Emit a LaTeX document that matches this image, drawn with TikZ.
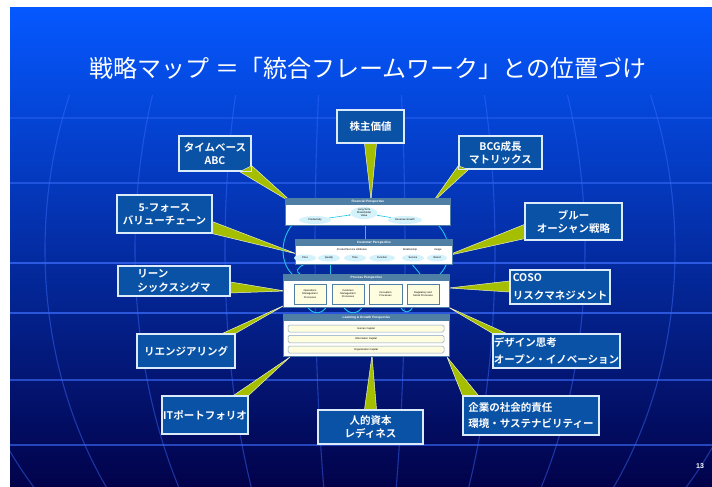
\documentclass[tikz,border=0pt]{standalone}
\usepackage{fontspec}
\setmainfont{Noto Sans CJK JP}[BoldFont={Noto Sans CJK JP Bold}]
\newfontfamily\lsans{Liberation Sans}
\usetikzlibrary{calc,shapes.geometric,arrows.meta}
\definecolor{bgtop}{HTML}{0558FF}
\definecolor{bgmid}{HTML}{0426C8}
\definecolor{bgbot}{HTML}{02024A}
\definecolor{gridc}{HTML}{3D6DFF}
\definecolor{boxfill}{HTML}{0A52A6}
\definecolor{boxline}{HTML}{DCEBFA}
\definecolor{wedgec}{HTML}{A6BE00}
\definecolor{hdrc}{HTML}{4F7FA4}
\definecolor{ovalc}{HTML}{D4F2FB}
\definecolor{paley}{HTML}{FFFDE0}
\definecolor{cyanc}{HTML}{22C4E6}
\newcommand\dtxt{\lsans\fontsize{2.6}{3.1}\selectfont}
\newcommand\dhdr{\lsans\bfseries\fontsize{3.2}{3.6}\selectfont}
\begin{document}
\begin{tikzpicture}[x=1pt,y=-1pt,
  cbox/.style={draw=boxline, line width=1.4pt, fill=boxfill, text=white,
    font=\bfseries\fontsize{10.5}{13}\selectfont, align=center, inner sep=0pt},
  wedge/.style={fill=wedgec, draw=white!80!wedgec, line width=0.5pt, line join=round},
  persp/.style={draw=hdrc, line width=0.8pt, fill=white, inner sep=0pt, anchor=north west},
  hdrbar/.style={fill=hdrc},
  hdrtxt/.style={text=white, font=\dhdr, inner sep=0pt},
  oval/.style={ellipse, fill=ovalc, inner sep=0pt, font=\dtxt, align=center},
  pbox/.style={draw=hdrc, line width=0.7pt, fill=paley, font=\dtxt, align=center, inner sep=0pt},
  lbar/.style={draw=hdrc!70, line width=0.5pt, fill=paley, rounded corners=1.5pt, font=\dtxt, inner sep=0pt},
  lbl/.style={font=\dtxt, inner sep=0pt},
  cyanln/.style={draw=cyanc, line width=0.9pt},
  gridln/.style={draw=gridc, line width=1.1pt}
]
\useasboundingbox (0,0) rectangle (712,487);
\fill[white] (0,0) rectangle (712,487);
\shade[top color=bgtop, middle color=bgmid, bottom color=bgbot] (10,8) rectangle (712,487);
% globe grid
\begin{scope}
  \clip (10,95) rectangle (712,487);
  \foreach \yy/\op in {118/0.35,183/0.5,263/0.7,313/0.7,380/0.6,445/0.6}
    \draw[gridln, opacity=\op] (10,\yy) -- (712,\yy);
  \foreach \rx in {45,135,225,315,405}
    \draw[gridln, opacity=0.45] (360,250) ellipse [x radius=\rx, y radius=400];
\end{scope}
% title
\node[text=white, font=\fontsize{24}{28}\selectfont, inner sep=0pt] (title) at (368,68)
  {戦略マップ ＝「統合フレームワーク」との位置づけ};
% callout boxes
\node[cbox, minimum width=67pt, minimum height=33pt] (b1) at (370.5,126.5) {株主価値};
\node[cbox, minimum width=72pt, minimum height=35pt] (b2) at (215,153.5) {タイムベース\\ABC};
\node[cbox, minimum width=83pt, minimum height=33pt] (b3) at (500.5,152.5) {BCG成長\\マトリックス};
\node[cbox, minimum width=95pt, minimum height=38pt] (b4) at (164.5,214) {5-フォース\\バリューチェーン};
\node[cbox, minimum width=112pt, minimum height=30pt, align=left] (b5) at (174,281) {リーン\\[1pt]シックスシグマ};
\node[cbox, minimum width=97pt, minimum height=37pt] (b6) at (573.5,221.5) {ブルー\\オーシャン戦略};
\node[cbox, minimum width=100pt, minimum height=34pt, align=left] (b7) at (560,287) {COSO\\[5pt]リスクマネジメント};
\node[cbox, minimum width=98pt, minimum height=34pt] (b8) at (186,351) {リエンジアリング};
\node[cbox, minimum width=86pt, minimum height=38pt] (b9) at (205,415) {ITポートフォリオ};
\node[cbox, minimum width=105pt, minimum height=34pt] (b10) at (370.5,427) {人的資本\\レディネス};
\node[cbox, minimum width=127pt, minimum height=34pt, align=left] (b11) at (556.5,351) {デザイン思考\\[4pt]オープン・イノベーション};
\node[cbox, minimum width=136pt, minimum height=39pt, align=left] (b12) at (531,415.5) {企業の社会的責任\\[4pt]環境・サステナビリティー};
% wedge tips
\coordinate (t1) at (371,200);
\coordinate (t2) at (294,204);
\coordinate (t3) at (432,203);
\coordinate (t4) at (297,254);
\coordinate (t5) at (285,291);
\coordinate (t6) at (446,256);
\coordinate (t7) at (449,288);
\coordinate (t8) at (285,305);
\coordinate (t9) at (290,357);
\coordinate (t10) at (372,355);
\coordinate (t11) at (448,307);
\coordinate (t12) at (447,357);
% wedges
\begin{scope}[on background layer/.style={}]
\filldraw[wedge] ($(b1.south)+(-6,0)$) -- (t1) -- ($(b1.south)+(6,0)$) -- cycle;
\filldraw[wedge] ($(b2.south east)+(-12,0)$) -- (t2) -- ($(b2.south east)+(0,-6)$) -- cycle;
\filldraw[wedge] ($(b3.south west)+(0,-4)$) -- (t3) -- ($(b3.south west)+(10,0)$) -- cycle;
\filldraw[wedge] ($(b4.south east)+(0,-12)$) -- (t4) -- ($(b4.south east)+(0,0)$) -- cycle;
\filldraw[wedge] ($(b5.east)+(0,1)$) -- (t5) -- ($(b5.east)+(0,12)$) -- cycle;
\filldraw[wedge] ($(b6.west)+(0,3)$) -- (t6) -- ($(b6.south west)+(0,-2)$) -- cycle;
\filldraw[wedge] ($(b7.west)+(0,-6)$) -- (t7) -- ($(b7.west)+(0,5)$) -- cycle;
\filldraw[wedge] ($(b8.north east)+(-13,0)$) -- (t8) -- ($(b8.north east)+(0,0)$) -- cycle;
\filldraw[wedge] ($(b9.north east)+(-15,0)$) -- (t9) -- ($(b9.north east)+(0,0)$) -- cycle;
\filldraw[wedge] ($(b10.north)+(-6,0)$) -- (t10) -- ($(b10.north)+(6,0)$) -- cycle;
\filldraw[wedge] ($(b11.north west)+(0,0)$) -- (t11) -- ($(b11.north west)+(14,0)$) -- cycle;
\filldraw[wedge] ($(b12.north west)+(0,0)$) -- (t12) -- ($(b12.north west)+(16,0)$) -- cycle;
\end{scope}
% redraw boxes above wedges
\foreach \b in {b1,b2,b3,b4,b5,b6,b7,b8,b9,b10,b11,b12}
  \draw[draw=boxline, line width=1.4pt] (\b.north west) rectangle (\b.south east);
% ---------- central strategy map ----------
% cyan links between perspectives
\draw[cyanln] (292,225) .. controls (280,240) and (280,262) .. (292,274);
\draw[cyanln] (438,225) .. controls (452,240) and (452,262) .. (440,274);
\draw[cyanln] (305,264) .. controls (296,268) and (296,272) .. (300,274);
\draw[cyanln] (330,262) -- (330,274);
\draw[cyanln] (365,225) -- (365,239);
\draw[cyanln] (410,262) .. controls (415,268) and (418,271) .. (420,274);
\draw[cyanln] (307,306) .. controls (312,315) and (322,315) .. (327,306);
\draw[cyanln] (343,306) .. controls (348,315) and (358,315) .. (363,306);
\draw[cyanln] (400,306) .. controls (404,314) and (410,314) .. (413,306);
% Financial
\node[persp, minimum width=165pt, minimum height=27pt] (fin) at (285,198) {};
\fill[hdrbar] (fin.north west) rectangle ($(fin.north east)+(0,7)$);
\node[hdrtxt] (finh) at ($(fin.north)+(0,3.5)$) {Financial Perspective};
\node[oval, minimum width=27pt, minimum height=12pt] (fv) at (364,213) {Long-Term\\Shareholder\\Value};
\node[oval, minimum width=32pt, minimum height=8pt] (fp) at (315,220) {Productivity};
\node[oval, minimum width=34pt, minimum height=8pt] (fr) at (405,220) {Revenue Growth};
\draw[cyanln, line width=0.6pt, -{Stealth[length=2pt]}] (fp) -- (fv);
\draw[cyanln, line width=0.6pt, -{Stealth[length=2pt]}] (fr) -- (fv);
% Customer
\node[persp, minimum width=157pt, minimum height=25pt] (cus) at (295,239) {};
\fill[hdrbar] (cus.north west) rectangle ($(cus.north east)+(0,7)$);
\node[hdrtxt] (cush) at ($(cus.north)+(0,3.5)$) {Customer Perspective};
\node[lbl] (cl1) at (352,249.5) {Product/Service Attributes};
\node[lbl] (cl2) at (410,249.5) {Relationship};
\node[lbl] (cl3) at (438,249.5) {Image};
\node[oval, minimum width=22pt, minimum height=7pt] (c1) at (305,258) {Price};
\node[oval, minimum width=22pt, minimum height=7pt] (c2) at (329,258) {Quality};
\node[oval, minimum width=22pt, minimum height=7pt] (c3) at (355,258) {Time};
\node[oval, minimum width=26pt, minimum height=7pt] (c4) at (382,258) {Function};
\node[oval, minimum width=22pt, minimum height=7pt] (c5) at (413,258) {Service};
\node[oval, minimum width=20pt, minimum height=7pt] (c6) at (437,258) {Brand};
% Process
\node[persp, minimum width=166pt, minimum height=33pt] (pro) at (283,274) {};
\fill[hdrbar] (pro.north west) rectangle ($(pro.north east)+(0,7)$);
\node[hdrtxt] (proh) at ($(pro.north)+(0,3.5)$) {Process Perspective};
\node[pbox, minimum width=32pt, minimum height=20pt] (p1) at (310,294) {Operations\\Management\\Processes};
\node[pbox, minimum width=32pt, minimum height=20pt] (p2) at (348,294) {Customer\\Management\\Processes};
\node[pbox, minimum width=33pt, minimum height=20pt] (p3) at (385.5,294) {Innovation\\Processes};
\node[pbox, minimum width=32pt, minimum height=20pt] (p4) at (423,294) {Regulatory and\\Social Processes};
% Learning & Growth
\node[persp, minimum width=166pt, minimum height=42pt] (lg) at (283,314) {};
\fill[hdrbar] (lg.north west) rectangle ($(lg.north east)+(0,7)$);
\node[hdrtxt] (lgh) at ($(lg.north)+(0,3.5)$) {Learning \& Growth Perspective};
\node[lbar, minimum width=156pt, minimum height=7pt] (l1) at (366,328.5) {Human Capital};
\node[lbar, minimum width=156pt, minimum height=7.5pt] (l2) at (366,339) {Information Capital};
\node[lbar, minimum width=156pt, minimum height=7pt] (l3) at (366,349.5) {Organization Capital};
% page number
\node[text=white, font=\lsans\bfseries\fontsize{7}{8}\selectfont, inner sep=0pt] (pg) at (700,466) {13};
\end{tikzpicture}
\end{document}
